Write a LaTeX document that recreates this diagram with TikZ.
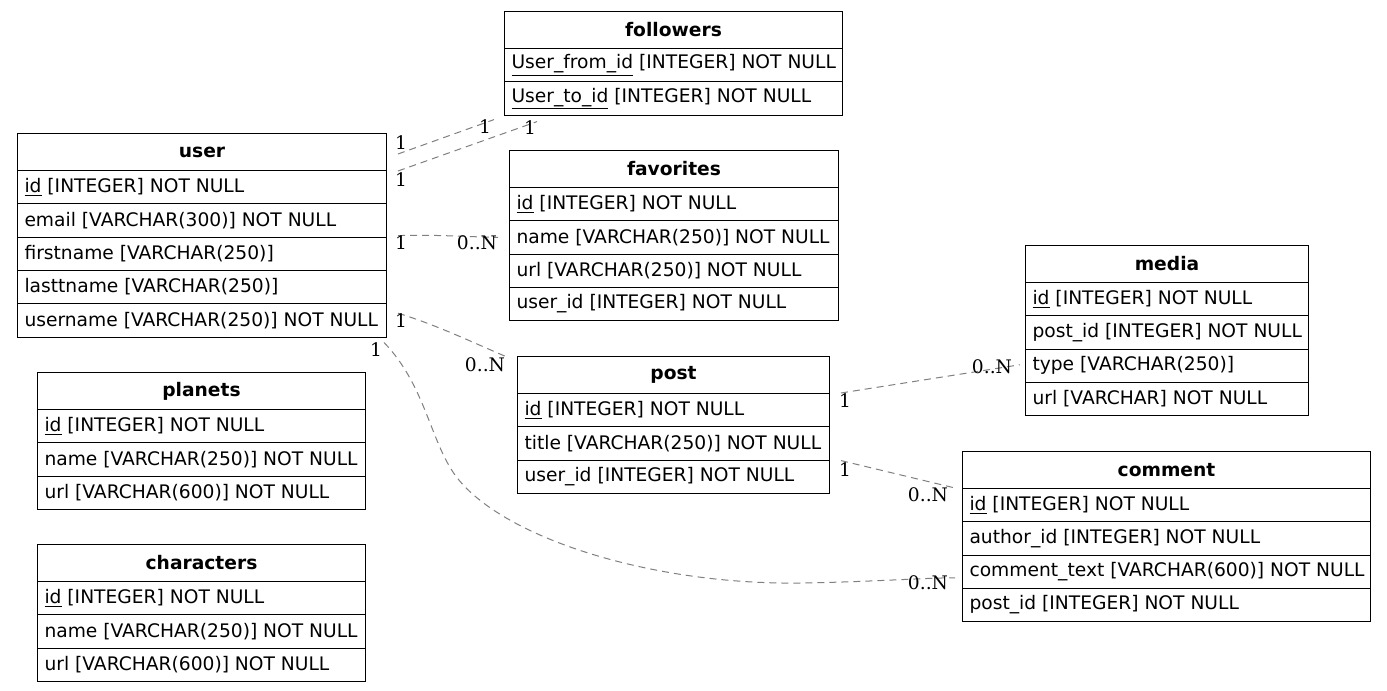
\documentclass[tikz,border=0pt]{standalone}
\usepackage{fontspec}
\setmainfont{DejaVu Sans}
\newfontfamily\lblfont{DejaVu Serif}
\usetikzlibrary{calc}
\newcommand\ertable[6]{%
  \pgfmathsetmacro\erw{#4*0.75}%
  \pgfmathsetmacro\ertw{(#4-14)*0.75}%
  \node[hdr, minimum width=\erw pt] (#1) at (#2,#3) {#5};
  \foreach \r [count=\i] in {#6} {%
    \node[cell] (#1-\i) at (#2,{#3+37+(\i-1)*33.3}) {\makebox[\ertw pt][l]{\r}};
  }%
}
\begin{document}
\begin{tikzpicture}[x=0.75pt,y=-0.75pt,
  every node/.style={font=\fontsize{14}{16.8}\selectfont},
  hdr/.style={draw, line width=0.75pt, anchor=north west, minimum height=27.75pt, inner sep=0pt, font=\fontsize{14}{16.8}\selectfont\bfseries},
  cell/.style={draw, line width=0.75pt, anchor=north west, minimum height=24.975pt, inner xsep=5.25pt, inner ysep=0pt},
  erel/.style={draw=gray, line width=0.75pt, dash pattern=on 5.25pt off 3.75pt},
  lbl/.style={inner sep=0pt, font=\fontsize{14}{16.8}\selectfont\lblfont}]
\fill[white] (0,0) rectangle (1387,691);
\useasboundingbox (0,0) rectangle (1387,691);

\ertable{followers}{504}{11}{338}{followers}{{\underline{User\_from\_id} [INTEGER] NOT NULL},{\underline{User\_to\_id} [INTEGER] NOT NULL}}
\ertable{user}{17}{133}{369}{user}{{\underline{id} [INTEGER] NOT NULL},{email [VARCHAR(300)] NOT NULL},{firstname [VARCHAR(250)]},{lasttname [VARCHAR(250)]},{username [VARCHAR(250)] NOT NULL}}
\ertable{favorites}{509}{150}{329}{favorites}{{\underline{id} [INTEGER] NOT NULL},{name [VARCHAR(250)] NOT NULL},{url [VARCHAR(250)] NOT NULL},{user\_id [INTEGER] NOT NULL}}
\ertable{media}{1025}{245}{283}{media}{{\underline{id} [INTEGER] NOT NULL},{post\_id [INTEGER] NOT NULL},{type [VARCHAR(250)]},{url [VARCHAR] NOT NULL}}
\ertable{post}{517}{356}{312}{post}{{\underline{id} [INTEGER] NOT NULL},{title [VARCHAR(250)] NOT NULL},{user\_id [INTEGER] NOT NULL}}
\ertable{comment}{962}{451}{408}{comment}{{\underline{id} [INTEGER] NOT NULL},{author\_id [INTEGER] NOT NULL},{comment\_text [VARCHAR(600)] NOT NULL},{post\_id [INTEGER] NOT NULL}}
\ertable{planets}{37}{372}{328}{planets}{{\underline{id} [INTEGER] NOT NULL},{name [VARCHAR(250)] NOT NULL},{url [VARCHAR(600)] NOT NULL}}
\ertable{characters}{37}{544}{328}{characters}{{\underline{id} [INTEGER] NOT NULL},{name [VARCHAR(250)] NOT NULL},{url [VARCHAR(600)] NOT NULL}}

% connectors
\draw[erel] ($(user.east)+(11,2)$) -- ($(followers-2.south west)+(-10,4)$);
\draw[erel] ($(user-1.north east)+(11,1)$) -- ($(followers-2.south west)+(33,6)$);
\draw[erel] ($(user-2.south east)+(11,-2)$) .. controls ($(user-2.south east)+(50,-3)$) and ($(favorites-2.west)+(-50,-1)$) .. ($(favorites-2.west)+(-11,0)$);
\draw[erel] ($(user-5.north east)+(11,10)$) .. controls ($(user-5.north east)+(50,22)$) and ($(post.north west)+(-50,-16)$) .. ($(post.north west)+(-10,1)$);
\draw[erel] ($(user-5.south east)+(-3,5)$) .. controls (425,385) and (430,440) .. (455,475)
   .. controls (500,537) and (650,585) .. (800,583)
   .. controls (870,582) and (920,578) .. ($(comment-3.west)+(-7,6)$);
\draw[erel] ($(post-1.north east)+(11,0)$) -- ($(media-3.west)+(-5,-1)$);
\draw[erel] ($(post-3.north east)+(11,1)$) -- ($(comment.south west)+(-7,-1)$);

% multiplicity labels
\node[lbl] (l1a) at (401,143) {1};
\node[lbl] (l1b) at (485,127) {1};
\node[lbl] (l2a) at (401,180) {1};
\node[lbl] (l2b) at (530,128) {1};
\node[lbl] (l3a) at (401,243) {1};
\node[lbl] (l3b) at (477,243) {0..N};
\node[lbl] (l4a) at (401,321) {1};
\node[lbl] (l4b) at (485,365) {0..N};
\node[lbl] (l5a) at (376,350) {1};
\node[lbl] (l5b) at (928,583) {0..N};
\node[lbl] (l6a) at (845,401) {1};
\node[lbl] (l6b) at (992,367) {0..N};
\node[lbl] (l7a) at (845,470) {1};
\node[lbl] (l7b) at (928,495) {0..N};
\end{tikzpicture}
\end{document}
